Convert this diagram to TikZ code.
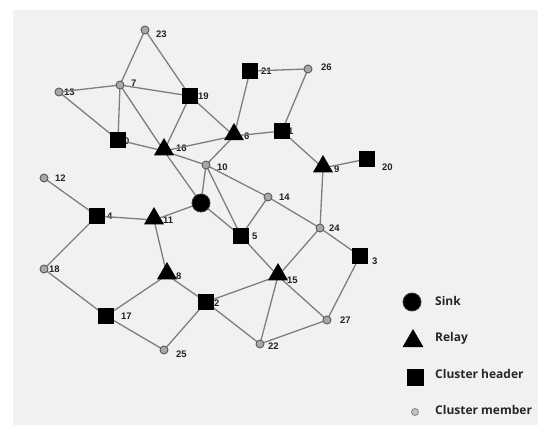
\documentclass[tikz,border=0pt]{standalone}
\usepackage{fontspec}
\setmainfont{Liberation Sans}
\newfontfamily\legfont{Open Sans}
\usetikzlibrary{shapes.geometric}
\definecolor{panel}{HTML}{F1F1F1}
\definecolor{edgec}{HTML}{7E7E7E}
\definecolor{memfill}{HTML}{A8A8A8}
\definecolor{memdraw}{HTML}{5A5A5A}
\definecolor{labc}{HTML}{222222}
\tikzset{
  member/.style={circle,fill=memfill,draw=memdraw,line width=0.9pt,minimum size=8pt,inner sep=0pt},
  header/.style={rectangle,fill=black,minimum size=16pt,inner sep=0pt},
  relay/.style={regular polygon,regular polygon sides=3,fill=black,minimum size=23pt,inner sep=0pt},
  sink/.style={circle,fill=black,draw=black!80,line width=0.8pt,minimum size=18pt,inner sep=0pt},
  lab/.style={font=\fontsize{9.5}{10}\selectfont\bfseries,text=labc,anchor=west,inner sep=0pt},
  link/.style={draw=edgec,line width=1.3pt},
  legtext/.style={font=\legfont\bfseries\fontsize{12}{14}\selectfont,anchor=west,inner sep=0pt,text=black!85}
}
\begin{document}
\begin{tikzpicture}[x=1pt,y=-1pt]
\useasboundingbox (0,0) rectangle (538,425);
\fill[white] (0,0) rectangle (538,425);
\fill[panel] (13,10) rectangle (538,425);
% labels (behind shapes)
\node[lab] (l23) at (156,34) {23};
\node[lab] (l7) at (131,83) {7};
\node[lab] (l13) at (64,92) {13};
\node[lab] (l19) at (198,96) {19};
\node[lab] (l21) at (261,71) {21};
\node[lab] (l26) at (321,67) {26};
\node[lab] (l1) at (288,131) {1};
\node[lab] (l6) at (244,136) {6};
\node[lab] (l0) at (124,141) {0};
\node[lab] (l16) at (176,148) {16};
\node[lab] (l10) at (217,167) {10};
\node[lab] (l20) at (382,167) {20};
\node[lab] (l9) at (334,169) {9};
\node[lab] (l12) at (55,178) {12};
\node[lab] (l14) at (279,197) {14};
\node[lab] (l4) at (107,216) {4};
\node[lab] (l11) at (163,220) {11};
\node[lab] (l5) at (252,236) {5};
\node[lab] (l24) at (329,228) {24};
\node[lab] (l3) at (372,261) {3};
\node[lab] (l18) at (49,269) {18};
\node[lab] (l8) at (176,276) {8};
\node[lab] (l15) at (287,280) {15};
\node[lab] (l2) at (214,303) {2};
\node[lab] (l17) at (121,316) {17};
\node[lab] (l27) at (340,320) {27};
\node[lab] (l22) at (268,346) {22};
\node[lab] (l25) at (176,354) {25};
% node coordinates
\coordinate (c23) at (145,30);
\coordinate (c7) at (120,85);
\coordinate (c13) at (59,92);
\coordinate (c19) at (190,96);
\coordinate (c21) at (250,71);
\coordinate (c26) at (308,69);
\coordinate (c1) at (282,131);
\coordinate (c6) at (234,136);
\coordinate (c0) at (118,140);
\coordinate (c16) at (164,151);
\coordinate (c10) at (206,165);
\coordinate (c20) at (367,159);
\coordinate (c9) at (323,168);
\coordinate (c12) at (44,178);
\coordinate (csink) at (201,203);
\coordinate (c14) at (268,197);
\coordinate (c4) at (97,216);
\coordinate (c11) at (154,220);
\coordinate (c5) at (241,236);
\coordinate (c24) at (320,228);
\coordinate (c3) at (360,256);
\coordinate (c18) at (44,269);
\coordinate (c8) at (167,275);
\coordinate (c15) at (278,276);
\coordinate (c2) at (206,302);
\coordinate (c17) at (106,316);
\coordinate (c27) at (327,320);
\coordinate (c22) at (260,344);
\coordinate (c25) at (164,350);
% edges
\foreach \a/\b in {23/7,23/19,13/7,7/19,7/0,7/16,13/0,19/16,19/6,0/16,16/6,16/10,16/sink,
  21/6,21/26,26/1,6/1,6/10,1/9,9/20,9/24,10/sink,10/5,10/14,14/24,14/5,12/4,4/11,4/18,
  11/sink,11/8,sink/5,5/15,24/15,24/3,3/27,18/17,8/17,8/2,2/15,2/22,2/25,17/25,15/22,15/27,22/27}
  \draw[link] (c\a) -- (c\b);
% shapes
\foreach \n in {23,7,13,26,10,12,14,24,18,27,22,25} \node[member] (n\n) at (c\n) {};
\foreach \n in {19,21,1,0,20,4,5,3,2,17} \node[header] (n\n) at (c\n) {};
\foreach \n in {6,16,9,11,8,15} \node[relay] (n\n) at ([yshift=1.5pt]c\n) {};
\node[sink] (nsink) at (csink) {};
% legend
\node[sink] (lgsink) at (412,302) {};
\node[relay,minimum size=24pt] (lgrelay) at (413,341) {};
\node[header,minimum size=17pt] (lghead) at (415,377) {};
\node[member,minimum size=7pt,fill=memfill!70,draw=memdraw!70] (lgmem) at (415,412) {};
\node[legtext] (tsink) at (435,301) {Sink};
\node[legtext] (trelay) at (435,338) {Relay};
\node[legtext] (thead) at (435,374) {Cluster header};
\node[legtext] (tmem) at (435,410) {Cluster member};
\end{tikzpicture}
\end{document}
